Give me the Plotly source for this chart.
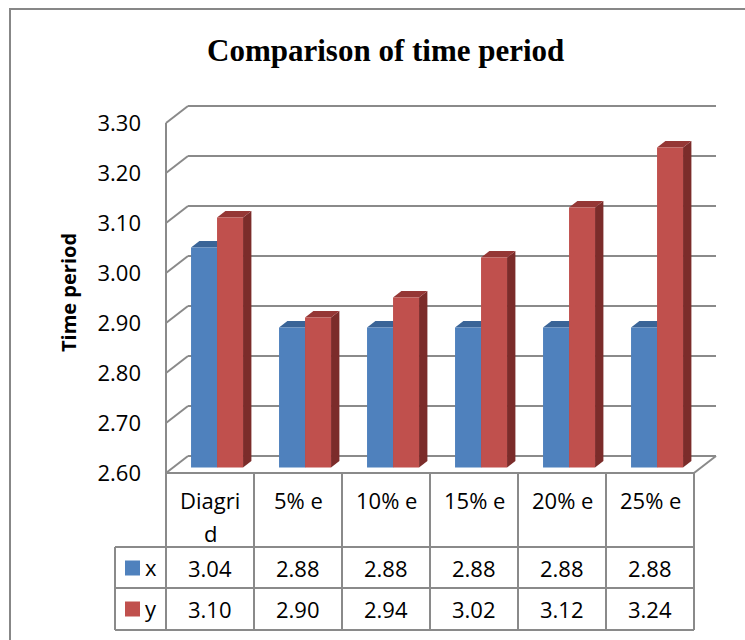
import plotly.graph_objects as go

# ---------------- data ----------------
categories = ["Diagrid", "5% e", "10% e", "15% e", "20% e", "25% e"]
series_names = ["x", "y"]
x_values = [3.04, 2.88, 2.88, 2.88, 2.88, 2.88]
y_values = [3.10, 2.90, 2.94, 3.02, 3.12, 3.24]
y_tick_values = [2.60, 2.70, 2.80, 2.90, 3.00, 3.10, 3.20, 3.30]
y_tick_labels = ["2.60", "2.70", "2.80", "2.90", "3.00", "3.10", "3.20", "3.30"]
title_text = "Comparison of time period"
y_title = "Time period"

# ---------------- styling / geometry ----------------
W, H = 745, 640
SX, SY = 88.0, 500.0          # px per unit
OX, OY = 166.0, 473.0         # px position of x=-0.5 / y=2.60 (front)
DX, DY = 22.0 / SX, 17.0 / SY  # 3-D depth offset in data units
PL, PR, PT, PB = 160.0, 722.0, 100.0, 480.0
YMIN = y_tick_values[0]
x0 = -0.5 + (PL - OX) / SX
x1 = -0.5 + (PR - OX) / SX
y0 = YMIN - (PB - OY) / SY
y1 = YMIN + (OY - PT) / SY

BW = 26.0 / SX   # bar width
D0 = 0.32        # front depth of bars (fraction)
DD = 0.38        # bar depth (fraction)

GRID = "#8a8a8a"
FONT = "Open Sans"
colors = ["#4F81BD", "#C0504D"]
side_colors = ["#2F5380", "#7B2C2A"]
top_colors = ["#3A6497", "#953735"]


def pxx(px):
    return (px - PL) / (PR - PL)


def pyy(py):
    return (PB - py) / (PB - PT)


def dxp(xd):
    return (xd - x0) / (x1 - x0)


n = len(categories)
fig = go.Figure()
shapes = []
annotations = []

# walls / grid
left = -0.5
right = n - 0.5
for v in y_tick_values:
    shapes.append(dict(type="line", xref="x", yref="y", x0=left + DX, x1=right + DX,
                       y0=v + DY, y1=v + DY, line=dict(color=GRID, width=2), layer="below"))
    shapes.append(dict(type="line", xref="x", yref="y", x0=left, x1=left + DX,
                       y0=v, y1=v + DY, line=dict(color=GRID, width=2), layer="below"))
shapes.append(dict(type="line", xref="x", yref="y", x0=left, x1=left,
                   y0=YMIN, y1=y_tick_values[-1], line=dict(color=GRID, width=2), layer="below"))
shapes.append(dict(type="line", xref="x", yref="y", x0=left, x1=right,
                   y0=YMIN, y1=YMIN, line=dict(color=GRID, width=2), layer="below"))
shapes.append(dict(type="line", xref="x", yref="y", x0=right, x1=right + DX,
                   y0=YMIN, y1=YMIN + DY, line=dict(color=GRID, width=2), layer="below"))

# bars (front faces as traces, side/top faces as shapes computed from values)
base = YMIN + D0 * DY
for s, vals in enumerate([x_values, y_values]):
    offs = (-BW / 2) if s == 0 else (BW / 2)
    xs = [i + offs + D0 * DX for i in range(n)]
    fig.add_trace(go.Bar(x=xs, y=[v - YMIN for v in vals], base=base, width=BW,
                         name=series_names[s], marker=dict(color=colors[s], line=dict(width=0)),
                         showlegend=False))
    for i, v in enumerate(vals):
        xl = xs[i] - BW / 2
        xr = xs[i] + BW / 2
        t = v + D0 * DY
        ddx, ddy = DD * DX, DD * DY
        shapes.append(dict(type="path", xref="x", yref="y", layer="between",
                           path=f"M{xr},{base} L{xr},{t} L{xr+ddx},{t+ddy} L{xr+ddx},{base+ddy} Z",
                           fillcolor=side_colors[s], line=dict(width=0)))
        shapes.append(dict(type="path", xref="x", yref="y", layer="between",
                           path=f"M{xl},{t} L{xr},{t} L{xr+ddx},{t+ddy} L{xl+ddx},{t+ddy} Z",
                           fillcolor=top_colors[s], line=dict(width=0)))

# data table
TBL_TOP, HDR_BOT, ROW1_BOT, ROW2_BOT = 473.0, 547.0, 588.0, 630.0
LEG_LEFT = 115.0
tl = dict(color=GRID, width=2)
for py in [HDR_BOT, ROW1_BOT, ROW2_BOT]:
    shapes.append(dict(type="line", xref="paper", yref="paper", x0=pxx(LEG_LEFT), x1=dxp(right),
                       y0=pyy(py), y1=pyy(py), line=tl))
for k in range(n + 1):
    xb = k - 0.5
    shapes.append(dict(type="line", xref="paper", yref="paper", x0=dxp(xb), x1=dxp(xb),
                       y0=pyy(TBL_TOP), y1=pyy(ROW2_BOT), line=tl))
shapes.append(dict(type="line", xref="paper", yref="paper", x0=pxx(LEG_LEFT), x1=pxx(LEG_LEFT),
                   y0=pyy(HDR_BOT), y1=pyy(ROW2_BOT), line=tl))

tfont = dict(family=FONT, size=22, color="black")


def wrap(label, width=6):
    return [label[j:j + width] for j in range(0, len(label), width)]


for i, c in enumerate(categories):
    for li, part in enumerate(wrap(c)):
        annotations.append(dict(x=i, y=pyy(500 + 33 * li), xref="x", yref="paper", text=part,
                                showarrow=False, font=tfont, xanchor="center", yanchor="middle"))
row_centers = [568.0, 609.0]
for s, vals in enumerate([x_values, y_values]):
    for i, v in enumerate(vals):
        annotations.append(dict(x=i, y=pyy(row_centers[s]), xref="x", yref="paper", text=f"{v:.2f}",
                                showarrow=False, font=tfont, xanchor="center", yanchor="middle"))
    # legend key
    shapes.append(dict(type="rect", xref="paper", yref="paper", x0=pxx(125), x1=pxx(140),
                       y0=pyy(row_centers[s] + 7.5), y1=pyy(row_centers[s] - 7.5),
                       fillcolor=colors[s], line=dict(width=0)))
    annotations.append(dict(x=pxx(151), y=pyy(row_centers[s] - 1), xref="paper", yref="paper",
                            text=series_names[s], showarrow=False, font=tfont,
                            xanchor="center", yanchor="middle"))

# title and axis title
annotations.append(dict(x=pxx(385), y=pyy(50), xref="paper", yref="paper",
                        text=f"<b>{title_text}</b>", showarrow=False,
                        font=dict(family="Liberation Serif", size=31, color="black"),
                        xanchor="center", yanchor="middle"))
annotations.append(dict(x=pxx(68), y=pyy(293), xref="paper", yref="paper",
                        text=f"<b>{y_title}</b>", showarrow=False, textangle=-90,
                        font=dict(family=FONT, size=20, color="black"),
                        xanchor="center", yanchor="middle"))

# outer chart frame
shapes.append(dict(type="rect", xref="paper", yref="paper", x0=pxx(10), x1=pxx(W + 20),
                   y0=pyy(H + 20), y1=pyy(9), line=dict(color="#878787", width=2),
                   fillcolor="rgba(0,0,0,0)", layer="below"))

fig.update_layout(
    width=W, height=H,
    margin=dict(l=PL, r=W - PR, t=PT, b=H - PB, pad=0),
    paper_bgcolor="white", plot_bgcolor="rgba(0,0,0,0)",
    barmode="overlay",
    showlegend=False,
    xaxis=dict(range=[x0, x1], showgrid=False, zeroline=False, showticklabels=False,
               showline=False, ticks="", fixedrange=True),
    yaxis=dict(range=[y0, y1], showgrid=False, zeroline=False, showline=False,
               tickvals=y_tick_values, ticktext=y_tick_labels, ticks="",
               ticklabelstandoff=18, tickfont=dict(family=FONT, size=22, color="black"),
               fixedrange=True),
    shapes=shapes,
    annotations=annotations,
)

fig.write_html("out.html")
